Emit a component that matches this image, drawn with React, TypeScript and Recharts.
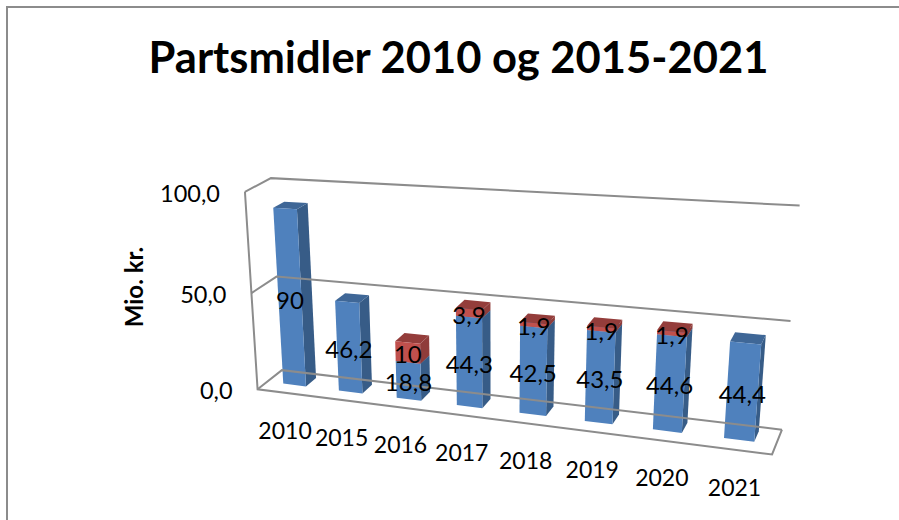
import React from "react";
import { Bar, BarChart, LabelList, ReferenceLine, XAxis, YAxis } from "recharts";

const years = ["2010", "2015", "2016", "2017", "2018", "2019", "2020", "2021"];
const blueValues = [90, 46.2, 18.8, 44.3, 42.5, 43.5, 44.6, 44.4];
const redValues = [null, null, 10, 3.9, 1.9, 1.9, 1.9, null];
const valueTicks = [0, 50, 100];

const chartData = years.map((year, i) => ({
  year,
  blue: blueValues[i],
  red: redValues[i],
}));

const FONT = "Lato, sans-serif";
const WALL = "#8c8c8c";

// flat plot area recharts lays out, every mark is then projected to the 3d look
const PLOT = { left: 130, top: 135, band: 80, height: 300 };
const FLOOR_FRONT = -0.9;
const FLOOR_BACK = 1.4;

const project = (t: number, v: number, d: number) => {
  const w = 1 - 0.01918 * t - 0.000506 * v + 0.01383 * d;
  return [
    (294.5 + 49.32 * t - 0.25 * v + 14.44 * d) / w,
    (385 - 0.586 * t - 2.066 * v - 3.153 * d) / w,
  ];
};

const toT = (px: number) => (px - PLOT.left) / PLOT.band - 0.5;
const toV = (py: number) => ((PLOT.top + PLOT.height - py) / PLOT.height) * 100;

const pts = (list: number[][]) => list.map((p) => p.join(",")).join(" ");

const makeShape = (front: string, side: string, top: string) => (props: any) => {
  const { x, y, width, height } = props;
  if (!height || !(height > 0)) return null;
  const t0 = toT(x);
  const t1 = toT(x + width);
  const v1 = toV(y);
  const v0 = toV(y + height);
  return (
    <g>
      <polygon
        points={pts([project(t1, v0, 0), project(t1, v0, 1), project(t1, v1, 1), project(t1, v1, 0)])}
        fill={side}
      />
      <polygon
        points={pts([project(t0, v1, 0), project(t1, v1, 0), project(t1, v1, 1), project(t0, v1, 1)])}
        fill={top}
      />
      <polygon
        points={pts([project(t0, v0, 0), project(t1, v0, 0), project(t1, v1, 0), project(t0, v1, 0)])}
        fill={front}
      />
    </g>
  );
};

const blueShape = makeShape("#4f81bd", "#375c87", "#3f6797");
const redShape = makeShape("#c0504d", "#8f3c3a", "#943d3b");

const WallLine = (props: any) => {
  const v = toV(props.y1 ?? props.viewBox?.y ?? PLOT.top);
  const tL = -0.5;
  const tR = 7.5;
  const lines = [
    [project(tL, v, FLOOR_FRONT), project(tL, v, FLOOR_BACK), project(tR, v, FLOOR_BACK)],
  ];
  if (Math.abs(v) < 0.01) {
    lines.push([
      project(tL, 100, FLOOR_FRONT),
      project(tL, 0, FLOOR_FRONT),
      project(tR, 0, FLOOR_FRONT),
      project(tR, 0, FLOOR_BACK),
    ]);
  }
  return (
    <g>
      {lines.map((l, i) => (
        <polyline key={i} points={pts(l)} fill="none" stroke={WALL} strokeWidth={2} />
      ))}
    </g>
  );
};

const XTick = (props: any) => {
  const [sx, sy] = project(toT(props.x), 0, FLOOR_FRONT);
  return (
    <text x={sx} y={sy + 37} textAnchor="middle" dominantBaseline="central" fontFamily={FONT} fontSize={23} fill="#000">
      {props.payload.value}
    </text>
  );
};

const YTick = (props: any) => {
  const [sx, sy] = project(-0.5, props.payload.value, FLOOR_FRONT);
  return (
    <text x={sx - 25} y={sy + 1} textAnchor="end" dominantBaseline="central" fontFamily={FONT} fontSize={23.5} fill="#000">
      {props.payload.value.toFixed(1).replace(".", ",")}
    </text>
  );
};

const ValueLabel = (props: any) => {
  const { x, y, width, height, value } = props;
  if (value === null || value === undefined) return null;
  const [sx, sy] = project(toT(x + width / 2), toV(y + height / 2), 0);
  return (
    <text x={sx} y={sy + 1} textAnchor="middle" dominantBaseline="central" fontFamily={FONT} fontSize={24} fill="#000">
      {String(value).replace(".", ",")}
    </text>
  );
};

const App = () => {
  return (
    <div style={{ position: "absolute", left: 0, top: 0, width: 899, height: 520, background: "#fff", overflow: "hidden" }}>
      <div
        style={{
          position: "absolute",
          left: 6,
          top: 6,
          width: 900,
          height: 520,
          borderLeft: "2px solid #8c8c8c",
          borderTop: "2px solid #8c8c8c",
        }}
      />
      <div
        style={{
          position: "absolute",
          left: 0,
          top: 30,
          width: 917,
          textAlign: "center",
          fontFamily: FONT,
          fontWeight: 700,
          fontSize: 43.5,
          color: "#000",
          whiteSpace: "nowrap",
        }}
      >
        Partsmidler 2010 og 2015-2021
      </div>
      <div style={{ position: "absolute", left: 0, top: 0 }}>
        <BarChart
          width={899}
          height={520}
          data={chartData}
          barCategoryGap="29.5%"
          margin={{ top: PLOT.top, right: 129, bottom: 55, left: 90 }}
        >
          <XAxis dataKey="year" height={30} axisLine={false} tickLine={false} tick={<XTick />} interval={0} />
          <YAxis
            width={40}
            domain={[0, 100]}
            ticks={valueTicks}
            axisLine={false}
            tickLine={false}
            tick={<YTick />}
            label={{
              content: () => (
                <text
                  x={143}
                  y={287}
                  transform="rotate(-90 143 287)"
                  textAnchor="middle"
                  fontFamily={FONT}
                  fontWeight={700}
                  fontSize={24}
                  fill="#000"
                >
                  Mio. kr.
                </text>
              ),
            }}
          />
          {valueTicks.map((v) => (
            <ReferenceLine key={v} y={v} shape={<WallLine />} />
          ))}
          <Bar dataKey="blue" stackId="a" shape={blueShape} isAnimationActive={false}>
            <LabelList dataKey="blue" content={<ValueLabel />} />
          </Bar>
          <Bar dataKey="red" stackId="a" shape={redShape} isAnimationActive={false}>
            <LabelList dataKey="red" content={<ValueLabel />} />
          </Bar>
        </BarChart>
      </div>
    </div>
  );
};

export default App;
